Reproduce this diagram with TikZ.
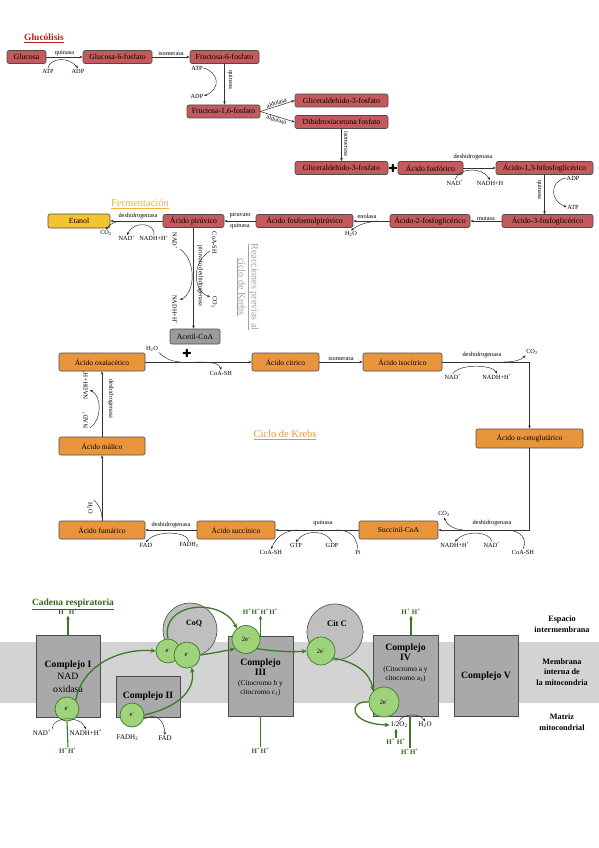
\documentclass[tikz,border=0pt]{standalone}
\usepackage{fontspec}
\setmainfont{Liberation Serif}
\newfontfamily\djv{DejaVu Sans}
\usetikzlibrary{arrows.meta}
\definecolor{glured}{HTML}{C45A5C}
\definecolor{kreb}{HTML}{E9953C}
\definecolor{etyel}{HTML}{F3C331}
\definecolor{acgray}{HTML}{9B9B9B}
\definecolor{cxgray}{HTML}{A9A9A9}
\definecolor{memb}{HTML}{D3D3D3}
\definecolor{bigcol}{HTML}{BFBFBF}
\definecolor{egreen}{HTML}{9ED27B}
\definecolor{dgreen}{HTML}{3A7C24}
\definecolor{tgreen}{HTML}{2E6A1C}
\definecolor{titred}{HTML}{B01E1E}
\definecolor{titferm}{HTML}{F2B233}
\definecolor{titkreb}{HTML}{E9953C}
\definecolor{titgray}{HTML}{A0A0A0}
\newcommand{\fsz}[1]{\fontsize{#1}{#1}\selectfont}
\newcommand{\nadp}{NAD\textsuperscript{+}}
\newcommand{\nadhh}{NADH+H\textsuperscript{+}}
\newcommand{\cod}{CO\textsubscript{2}}
\newcommand{\hdo}{H\textsubscript{2}O}
\newcommand{\elec}{e\textsuperscript{-}}
\newcommand{\hpl}{H\textsuperscript{+}}
\begin{document}
\begin{tikzpicture}[x=1pt,y=-1pt,
 bx/.style={draw=black!70, rounded corners=2pt, inner sep=0pt, line width=0.6pt},
 gbox/.style={bx, fill=glured, minimum height=13pt, font=\fsz{7.8}},
 kbox/.style={bx, fill=kreb, minimum height=18pt, font=\fsz{7.5}},
 lab/.style={font=\fsz{6.3}, inner sep=0.6pt},
 lab2/.style={font=\fsz{7}, inner sep=0.6pt},
 arr/.style={-{Stealth[length=3.2pt,width=2.6pt]}, line width=0.55pt, draw=black!80},
 sarr/.style={-{Stealth[length=3pt,width=2.4pt]}, line width=0.45pt, draw=black!85},
 sline/.style={line width=0.45pt, draw=black!85},
 plussign/.style={font=\djv\fsz{11}, inner sep=0pt},
 cx/.style={draw=black!70, fill=cxgray, line width=0.7pt, inner sep=0pt},
 bigc/.style={circle, draw=black!65, fill=bigcol, line width=0.7pt, inner sep=0pt},
 ec/.style={circle, draw=dgreen, fill=egreen, line width=0.7pt, inner sep=0pt, font=\fsz{6.5}},
 garr/.style={-{Stealth[length=5pt,width=4.5pt]}, draw=dgreen, line width=1.3pt},
 gsarr/.style={-{Stealth[length=4pt,width=3.5pt]}, draw=dgreen, line width=1.1pt},
 gline/.style={draw=dgreen, line width=1.1pt},
 hp/.style={font=\fsz{7}\bfseries, text=tgreen, inner sep=0.5pt},
 cxt/.style={font=\fontsize{9.7}{10}\selectfont\bfseries, align=center, inner sep=0pt},
 cxs/.style={font=\fontsize{7.3}{9}\selectfont, align=center, inner sep=0pt},
 side/.style={font=\fontsize{8.2}{10.5}\selectfont\bfseries, align=center}]
\fill[white] (0,0) rectangle (599,848);
\useasboundingbox (0,0) rectangle (599,848);

% ---------------- Glucolisis
\node[font=\fsz{9.5}\bfseries, text=titred] (tglu) at (44,38) {\underline{Glucólisis}};
\node[gbox, minimum width=39pt] (glc) at (26.5,57) {Glucosa};
\node[gbox, minimum width=69pt] (g6p) at (117.5,57) {Glucosa-6-fosfato};
\node[gbox, minimum width=69pt] (f6p) at (224.5,57) {Fructosa-6-fosfato};
\node[gbox, minimum width=73pt] (f16) at (223.5,111.5) {Fructosa-1,6-fosfato};
\node[gbox, minimum width=93pt] (gada) at (341.5,100.5) {Gliceraldehído-3-fosfato};
\node[gbox, minimum width=93pt] (dhap) at (341.5,122) {Dihidroxiacetona fosfato};
\node[gbox, minimum width=93pt] (gadb) at (341.5,168) {Gliceraldehído-3-fosfato};
\node[plussign] (plus1) at (393,168) {✚};
\node[gbox, minimum width=65pt] (pac) at (430.5,168) {Ácido fosfórico};
\node[gbox, minimum width=97pt] (bpg) at (544.5,168) {Ácido-1,3-bifosfoglicérico};
\node[gbox, minimum width=91pt] (pg3) at (547.5,221) {Ácido-3-fosfoglicérico};
\node[gbox, minimum width=80pt] (pg2) at (430,221) {Ácido-2-fosfoglicérico};
\node[gbox, minimum width=97pt] (pep) at (304.5,221) {Ácido fosfoenolpirúvico};
\node[gbox, minimum width=61pt] (pyr) at (193.5,221) {Ácido pirúvico};
\node[bx, fill=etyel, minimum width=62pt, minimum height=14pt, font=\fsz{7.8}] (eta) at (79,221) {Etanol};
\node[bx, fill=acgray, minimum width=50pt, minimum height=15pt, font=\fsz{7.8}] (acoa) at (195,336.5) {Acetil-CoA};

\draw[arr] (glc) -- (g6p) node[lab, midway, above=0.3pt] {quinasa};
\node[lab] (atp1) at (48,71) {ATP};
\node[lab] (adp1) at (78,71) {ADP};
\draw[sarr] (atp1.north) .. controls (50,58) and (68,56) .. (adp1.north);
\draw[arr] (g6p) -- (f6p) node[lab, midway, above=0.3pt] {isomerasa};
\draw[arr] (f6p.south) -- (f6p.south |- f16.north);
\node[lab, rotate=-90] (qf) at (230.5,80) {quinasa};
\node[lab] (atp2) at (197,68) {ATP};
\node[lab] (adp2) at (197,96) {ADP};
\draw[sarr] (atp2.east) .. controls (218,72) and (222,88) .. (adp2.east);
\draw[arr] (f16.east) -- (gada.west) node[lab, midway, above, sloped] {aldolasa};
\draw[arr] (f16.east) -- (dhap.west) node[lab, midway, below, sloped] {aldolasa};
\draw[arr] (dhap.south) -- (gadb.north);
\node[lab, rotate=-90] (isof) at (346.5,144) {isomerasa};
\draw[arr] (pac) -- (bpg);
\node[lab] (dhg1) at (473,157) {deshidrogenasa};
\node[lab] (nad1) at (455,183) {\nadp};
\node[lab] (nadh1) at (490,183) {NADH+H};
\draw[sarr] (nad1.north) .. controls (458,168) and (482,166) .. (nadh1.north);
\draw[arr] (bpg.south) -- (bpg.south |- pg3.north);
\node[lab, rotate=-90] (qb) at (539.5,190) {quinasa};
\node[lab] (adp3) at (573,178) {ADP};
\node[lab] (atp3) at (573,207) {ATP};
\draw[sarr] (adp3.west) .. controls (550,181) and (549,200) .. (atp3.west);
\draw[arr] (pg3) -- (pg2) node[lab, midway, above=0pt] {mutasa};
\draw[arr] (pg2) -- (pep);
\node[lab] (eno) at (367,216.5) {enolasa};
\node[lab] (h2o1) at (351,234) {\hdo};
\draw[sarr] (378,221) .. controls (366,222) and (358,225) .. (h2o1.north);
\draw[arr] (pep) -- (pyr);
\node[lab] (pq1) at (240,215.5) {piruvato};
\node[lab] (pq2) at (240,226.5) {quinasa};

% ---------------- Fermentacion
\node[font=\fsz{10.5}, text=titferm] (tfer) at (140,204) {\underline{Fermentación}};
\draw[arr] (pyr) -- (eta);
\node[lab] (dhg2) at (138,216) {deshidrogenasa};
\node[lab] (co2a) at (106,233) {\cod};
\node[lab] (nad2) at (127,238.5) {\nadp};
\node[lab] (nadh2) at (154,238.5) {\nadhh};
\draw[sarr] (121,221) .. controls (113,222) and (109,225) .. (co2a.north);
\draw[sarr] (nadh2.north) .. controls (156,223) and (134,220) .. (nad2.north);

% ---------------- Reacciones previas
\draw[arr] (pyr.south) -- (pyr.south |- acoa.north);
\node[lab, rotate=-90] (pdh) at (200.5,276) {piruvato deshidrogenasa};
\node[lab, rotate=-90] (nadp1) at (175,241) {\nadp};
\node[lab, rotate=-90] (nadhp1) at (175,310) {\nadhh};
\node[lab, rotate=-90] (coa1) at (214.5,243) {CoA-SH};
\node[lab, rotate=-90] (co2b) at (214.5,302) {\cod};
\draw[sarr] (180,249) .. controls (196,260) and (196,292) .. (180,300);
\draw[sarr] (210,251) .. controls (192,262) and (192,290) .. (210,297);
\node[rotate=-90, font=\fontsize{10}{13}\selectfont, text=titgray, align=center] (rpk) at (247.5,287) {\underline{Reacciones previas al}\\\underline{ciclo de Krebs}};

% ---------------- Krebs
\node[kbox, minimum width=86pt] (oxa) at (102,362) {Ácido oxalacético};
\node[kbox, minimum width=67pt] (cit) at (285.5,362) {Ácido cítrico};
\node[kbox, minimum width=79pt] (iso) at (402.5,362) {Ácido isocítrico};
\node[kbox, minimum width=107pt, minimum height=19pt] (akg) at (529.5,438.5) {Ácido α-cetoglutárico};
\node[kbox, minimum width=79pt] (scoa) at (398.5,530) {Succinil-CoA};
\node[kbox, minimum width=78pt] (succ) at (236,530) {Ácido succínico};
\node[kbox, minimum width=86pt] (fum) at (102,530) {Ácido fumárico};
\node[kbox, minimum width=86pt] (mal) at (102,446) {Ácido málico};
\node[font=\fsz{10.5}, text=titkreb] (tkreb) at (285,435) {\underline{Ciclo de Krebs}};

\draw[arr] (oxa) -- (cit);
\node[plussign] (plus2) at (187,353) {✚};
\node[lab] (h2o2) at (152,349) {\hdo};
\draw[sline] (h2o2.south east) .. controls (164,358) and (170,361) .. (180,362);
\node[lab] (coa2) at (221,373) {CoA-SH};
\draw[sarr] (195,362) .. controls (210,362) and (220,363) .. (coa2.north);
\draw[arr] (cit) -- (iso) node[lab, midway, above=0.3pt] {isomerasa};
\draw[arr] (iso.east) -| (akg.north);
\node[lab] (dhg3) at (482,355) {deshidrogenasa};
\node[lab] (co2c) at (532,352) {\cod};
\draw[sarr] (503,362) .. controls (515,362) and (521,360) .. (co2c.south west);
\node[lab] (nad3) at (453,377) {\nadp};
\node[lab] (nadh3) at (497,377) {\nadhh};
\draw[sarr] (nad3.north) .. controls (458,364) and (492,364) .. (nadh3.north);

\draw[arr] (akg.south) |- (scoa.east);
\node[lab] (dhg4) at (492,523) {deshidrogenasa};
\node[lab] (co2d) at (444,514) {\cod};
\draw[sarr] (463,530) .. controls (453,529) and (447,525) .. (co2d.south);
\node[lab] (nadh4) at (455,545) {\nadhh};
\node[lab] (nad4) at (492,545) {\nadp};
\draw[sarr] (nad4.north) .. controls (490,531) and (465,530) .. (nadh4.north);
\node[lab] (coa3) at (523,552) {CoA-SH};
\draw[sline] (508,530) .. controls (520,531) and (528,538) .. (coa3.north);

\draw[arr] (scoa) -- (succ);
\node[lab] (qs) at (323,523) {quinasa};
\node[lab] (gtp) at (296,545) {GTP};
\node[lab] (gdp) at (332,545) {GDP};
\node[lab] (pii) at (358,552) {Pi};
\node[lab] (coa4) at (271,552) {CoA-SH};
\draw[sline] (pii.north) .. controls (356,534) and (348,530) .. (336,530);
\draw[sarr] (gdp.north) .. controls (327,530) and (305,529) .. (gtp.north);
\draw[sarr] (299,530) .. controls (287,530) and (277,535) .. (coa4.north);

\draw[arr] (succ) -- (fum);
\node[lab] (dhg5) at (171,525) {deshidrogenasa};
\node[lab] (fad1) at (146,545) {FAD};
\node[lab] (fadh1) at (189,545) {FADH\textsubscript{2}};
\draw[sarr] (fadh1.north) .. controls (188,531) and (156,530) .. (fad1.north);

\draw[arr] (fum.north) -- (mal.south);
\node[lab, rotate=-90] (h2o3) at (90,508) {\hdo};
\draw[sline] (94,500) .. controls (99,505) and (102,511) .. (102,518);

\draw[arr] (mal.north) -- (oxa.south);
\node[lab, rotate=-90] (dhg6) at (111,399) {deshidrogenasa};
\node[lab, rotate=90] (nad5) at (85,420) {\nadp};
\node[lab, rotate=90] (nadh5) at (85,385) {\nadhh};
\draw[sarr] (90,428) .. controls (102,420) and (102,396) .. (90,390);

% ---------------- Cadena respiratoria
\fill[memb] (0,642) rectangle (599,703);
\node[font=\fsz{9.5}\bfseries, text=tgreen] (tcad) at (73,604) {\underline{Cadena respiratoria}};

\node[cx, minimum width=64pt, minimum height=82pt] (c1) at (68,676) {};
\node[align=center, font=\fontsize{9.7}{12.5}\selectfont, inner sep=0pt] (c1t) at (68,676.5) {\textbf{Complejo I}\\NAD\\oxidasa};
\node[cx, minimum width=64pt, minimum height=41pt] (c2) at (148,696.5) {};
\node[cxt] (c2t) at (148,696) {Complejo II};
\node[cx, minimum width=65pt, minimum height=80pt] (c3) at (260.5,676) {};
\node[cxt] (c3t) at (260.5,667) {Complejo\\III};
\node[cxs] (c3s) at (260.5,688) {(Citocromo b y\\citocromo c\textsubscript{1})};
\node[cx, minimum width=65pt, minimum height=81pt] (c4) at (405.5,675.5) {};
\node[cxt] (c4t) at (405.5,652.5) {Complejo\\IV};
\node[cxs] (c4s) at (405.5,674) {(Citocromo a y\\citocromo a\textsubscript{3})};
\node[cx, minimum width=64pt, minimum height=81pt] (c5) at (486,675.5) {};
\node[cxt] (c5t) at (486,676) {Complejo V};

\node[bigc, minimum size=54pt] (coq) at (190,630) {};
\node[font=\fsz{8}\bfseries] (coqt) at (194,623) {CoQ};
\node[bigc, minimum size=56pt] (citc) at (335,632) {};
\node[font=\fsz{8.5}\bfseries] (citct) at (337,624) {Cit C};

\node[ec, minimum size=24pt] (e1) at (67,709) {\elec};
\node[ec, minimum size=24pt] (e2) at (132,715) {\elec};
\node[ec, minimum size=24pt] (e3) at (168,651) {\elec};
\node[ec, minimum size=26pt] (e4) at (187,655) {\elec};
\node[ec, minimum size=28pt] (e5) at (246,639.5) {2\elec};
\node[ec, minimum size=28pt] (e6) at (321,651) {2\elec};
\node[ec, minimum size=30pt] (e7) at (384,702) {2\elec};

\draw[garr] (e1.north east) .. controls (82,665) and (120,648) .. (e3.west);
\draw[garr] (e2.east) .. controls (175,708) and (196,692) .. (e4.-70);
\draw[garr] (e3.north) .. controls (160,602) and (222,597) .. (e5.130);
\draw[garr] (e4.east) .. controls (214,653) and (224,651) .. (e5.220);
\draw[garr] (e5.-40) .. controls (280,652) and (295,652) .. (e6.west);
\draw[garr] (e6.-30) .. controls (355,662) and (370,672) .. (e7.north west);

\node[hp] (h1) at (68,612) {\hpl{} \hpl};
\draw[gsarr] (c1.north) -- (h1.south);
\node[hp] (h2) at (68,751) {\hpl\hpl};
\draw[gline] (h2.north) -- (e1.south);
\node[hp] (h3) at (260.5,612) {\hpl\hpl\hpl\hpl};
\draw[gsarr] (c3.north) -- (h3.south);
\node[hp] (h4) at (260.5,751) {\hpl\hpl};
\draw[gline] (h4.north) -- (c3.south);
\node[hp] (h5) at (411,612) {\hpl{} \hpl};
\draw[gsarr] (c4.north -| h5.south) -- (h5.south);
\node[hp] (h6) at (410,752) {\hpl\hpl};
\draw[gline] (h6.north) -- (h6.north |- c4.south);

\node[lab2] (nad6) at (42,733) {\nadp};
\node[lab2] (nadh6) at (86,733) {\nadhh};
\draw[sarr] (nad6.north east) .. controls (52,716) and (80,715) .. (nadh6.north);
\node[lab2] (fadh6) at (127.5,738) {FADH\textsubscript{2}};
\node[lab2] (fad6) at (165,738) {FAD};
\draw[sarr] (e2.-20) .. controls (155,713) and (164,718) .. (fad6.north);

\node[lab2] (o2) at (399,725) {1/2O\textsubscript{2}};
\node[lab2] (h2o6) at (425,725) {\hdo};
\draw[sarr] (o2.north) .. controls (403,713) and (420,713) .. (h2o6.north);
\draw[garr] (e7.west) .. controls (348,700) and (348,724) .. (o2.west);
\node[hp] (h7) at (396,742) {\hpl{} \hpl};
\draw[gsarr] (h7.north) -- (h7.north |- o2.south);

\node[side] (lesp) at (562,624) {Espacio\\intermembrana};
\node[side] (lmem) at (562,672) {Membrana\\interna de\\la mitocondria};
\node[side] (lmat) at (562,722) {Matriz\\mitocondrial};
\end{tikzpicture}
\end{document}
